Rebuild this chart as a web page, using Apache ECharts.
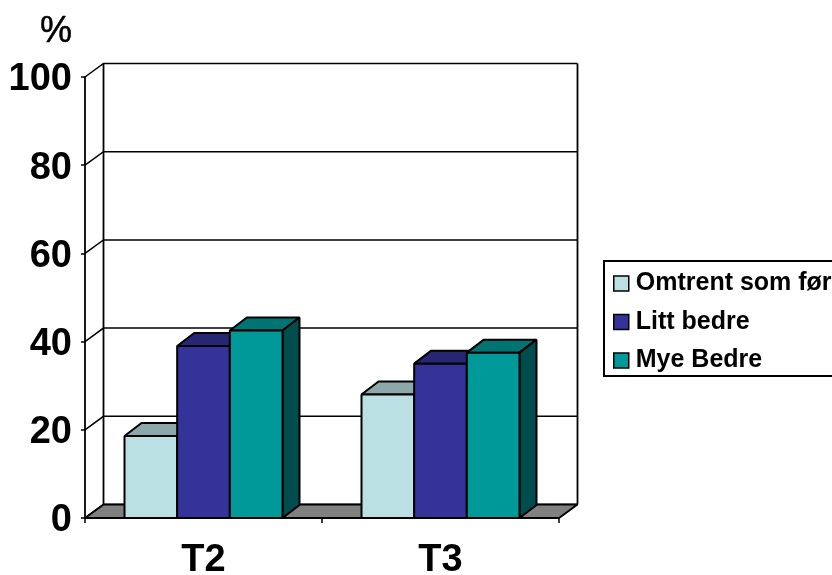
<!DOCTYPE html>
<html>
<head>
<meta charset="utf-8">
<style>html,body{margin:0;padding:0;background:#fff}#c{width:832px;height:575px}</style>
<script src="https://cdn.jsdelivr.net/npm/echarts@6/dist/echarts.min.js"></script>
</head>
<body>
<div id="c"></div>
<script>
const categories = ['T2', 'T3'];
const yTicks = [0, 20, 40, 60, 80, 100];
const omtrentSomFor = [18.6, 28];
const littBedre = [39, 35];
const myeBedre = [42.5, 37.5];
const seriesNames = ['Omtrent som før', 'Litt bedre', 'Mye Bedre'];

// Depth of the pseudo-3D box and of the bars, in pixels
const wallDX = 18.5, wallDY = 13.5, barDX = 17, barDY = 13;
const barBandRatio = 1 / 4.5;
const ink = '#000';
const fontFamily = '"Liberation Sans", Arial, sans-serif';

function polygon(points, fill) {
  return {
    type: 'polygon',
    shape: { points },
    style: { fill, stroke: ink, lineWidth: 2, lineJoin: 'bevel' }
  };
}

// One bar: front face plus top and right faces, offset from the middle of its band
function barRenderer(slot, front, top, side) {
  return function (params, api) {
    const base = api.coord([api.value(0), 0]);
    const head = api.coord([api.value(0), api.value(1)]);
    const w = api.size([1, 0])[0] * barBandRatio;
    const x0 = base[0] + (slot - 1.5) * w;
    const x1 = x0 + w;
    const y0 = base[1], y1 = head[1];
    return {
      type: 'group',
      children: [
        polygon([[x0, y1], [x0 + barDX, y1 - barDY], [x1 + barDX, y1 - barDY], [x1, y1]], top),
        polygon([[x1, y1], [x1 + barDX, y1 - barDY], [x1 + barDX, y0 - barDY], [x1, y0]], side),
        polygon([[x0, y1], [x1, y1], [x1, y0], [x0, y0]], front)
      ]
    };
  };
}

// Floor panel of the box
function floorRenderer(params, api) {
  const g = params.coordSys;
  const y = g.y + g.height;
  const xl = g.x, xr = g.x + g.width;
  return polygon([[xl, y], [xl + wallDX, y - wallDY], [xr + wallDX, y - wallDY], [xr, y]], '#808080');
}

// Gridline on the back wall with its slanted return to the value axis
function gridRenderer(params, api) {
  const g = params.coordSys;
  const y = api.coord([0, api.value(1)])[1];
  const xl = g.x, xr = g.x + g.width;
  return {
    type: 'polyline',
    shape: { points: [[xl, y], [xl + wallDX, y - wallDY], [xr + wallDX, y - wallDY]] },
    style: { fill: 'none', stroke: ink, lineWidth: 1.5 }
  };
}

// Vertical edges of the back wall
function wallEdgeRenderer(params, api) {
  const g = params.coordSys;
  const top = g.y - wallDY, bottom = g.y + g.height - wallDY;
  const xl = g.x + wallDX, xr = g.x + g.width + wallDX;
  return {
    type: 'group',
    children: [xl, xr].map(x => ({
      type: 'line',
      shape: { x1: x, y1: top, x2: x, y2: bottom },
      style: { stroke: ink, lineWidth: 1.8 }
    }))
  };
}

function barSeries(name, values, slot, front, top, side) {
  return {
    type: 'custom',
    name,
    clip: false,
    itemStyle: { color: front },
    encode: { x: 0, y: 1 },
    renderItem: barRenderer(slot, front, top, side),
    data: values.map((v, i) => [i, v])
  };
}

const chart = echarts.init(document.getElementById('c'), null, { renderer: 'canvas' });
chart.setOption({
  animation: false,
  backgroundColor: '#fff',
  textStyle: { fontFamily },
  title: {
    text: '%',
    left: 35,
    top: 9,
    textStyle: { fontFamily, fontSize: 36, fontWeight: 'normal', color: ink,
      textBorderColor: ink, textBorderWidth: 0.5 }
  },
  grid: { left: 85, top: 77, width: 474, height: 441, outerBoundsMode: 'none' },
  legend: {
    orient: 'vertical',
    left: 604,
    top: 261,
    data: seriesNames,
    icon: 'rect',
    itemWidth: 15,
    itemHeight: 15,
    itemGap: 13.5,
    padding: [10, 10, 3, 9],
    borderColor: ink,
    borderWidth: 2,
    itemStyle: { borderColor: ink, borderWidth: 1.5 },
    textStyle: { fontFamily, fontSize: 25, fontWeight: 'bold', color: ink, padding: [0, 0, 0, 2] },
    selectedMode: false
  },
  xAxis: {
    type: 'category',
    data: categories,
    axisLine: { lineStyle: { color: ink, width: 2 } },
    axisTick: { show: true, length: 5, lineStyle: { color: ink, width: 1.5 } },
    axisLabel: { fontFamily, fontSize: 38, fontWeight: 'bold', color: ink, margin: 24 }
  },
  yAxis: {
    type: 'value',
    min: 0,
    max: 100,
    interval: 20,
    splitLine: { show: false },
    axisLine: { show: true, lineStyle: { color: ink, width: 1.8 } },
    axisTick: { show: true, length: 4, lineStyle: { color: ink, width: 1.5 } },
    axisLabel: {
      margin: 13,
      formatter: '{tick|{value}}',
      rich: {
        // Extra room above the digits centres them on the tick marks
        tick: { fontFamily, fontSize: 38, fontWeight: 'bold', color: ink, padding: [6, 0, 0, 0] }
      }
    }
  },
  series: [
    { type: 'custom', silent: true, clip: false, renderItem: gridRenderer, encode: { x: 0, y: 1 },
      data: yTicks.map(v => [0, v]) },
    { type: 'custom', silent: true, clip: false, renderItem: wallEdgeRenderer, encode: { x: 0, y: 1 },
      data: [[0, 0]] },
    { type: 'custom', silent: true, clip: false, renderItem: floorRenderer, encode: { x: 0, y: 1 },
      data: [[0, 0]] },
    barSeries(seriesNames[0], omtrentSomFor, 0, '#BBE0E3', '#8CA8AA', '#5E7072'),
    barSeries(seriesNames[1], littBedre, 1, '#333399', '#262673', '#1A1A4D'),
    barSeries(seriesNames[2], myeBedre, 2, '#009999', '#007373', '#004D4D')
  ]
});
</script>
</body>
</html>
